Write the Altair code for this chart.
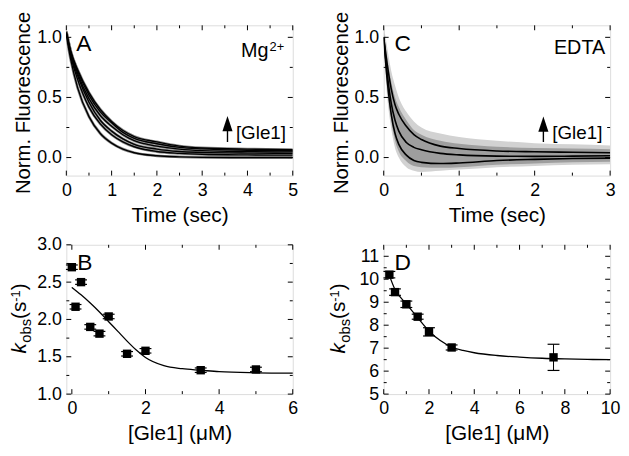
import altair as alt
import pandas as pd

FONT = "Liberation Sans"
W, H1, H2 = 229, 152, 151

# ---------------- Panel A (Mg2+) : normalized fluorescence traces ----------------
a_time = [0, 0.1, 0.25, 0.5, 0.75, 1.0, 1.25, 1.5, 2.0, 2.5, 3.0, 4.0, 5.0]
a_trace1 = [1.02, 0.81, 0.58, 0.34, 0.20, 0.12, 0.07, 0.04, 0.015, 0.006, 0.002, 0.0, 0.0]
a_trace2 = [1.03, 0.84, 0.65, 0.42, 0.28, 0.19, 0.13, 0.09, 0.05, 0.035, 0.027, 0.022, 0.02]
a_trace3 = [1.03, 0.85, 0.68, 0.46, 0.31, 0.22, 0.155, 0.11, 0.07, 0.05, 0.043, 0.037, 0.035]
a_trace4 = [1.04, 0.87, 0.70, 0.49, 0.35, 0.26, 0.19, 0.14, 0.095, 0.07, 0.058, 0.05, 0.047]
a_trace5 = [1.04, 0.88, 0.72, 0.52, 0.38, 0.29, 0.21, 0.16, 0.115, 0.085, 0.072, 0.061, 0.057]
a_trace6 = [1.05, 0.88, 0.73, 0.54, 0.40, 0.30, 0.225, 0.175, 0.13, 0.095, 0.08, 0.07, 0.066]

# ---------------- Panel C (EDTA) : fits and noise envelope ----------------
c_time = [0, 0.05, 0.1, 0.15, 0.2, 0.3, 0.4, 0.5, 0.75, 1.0, 1.5, 2.0, 2.5, 3.0]
c_fit_top = [1.0, 0.76, 0.57, 0.44, 0.36, 0.26, 0.19, 0.15, 0.095, 0.075, 0.055, 0.048, 0.044, 0.04]
c_fit_mid = [1.0, 0.68, 0.45, 0.31, 0.22, 0.125, 0.085, 0.065, 0.035, 0.022, 0.012, 0.01, 0.012, 0.015]
c_fit_low = [1.0, 0.62, 0.36, 0.20, 0.11, 0.02, -0.025, -0.04, -0.05, -0.045, -0.025, -0.015, -0.008, -0.005]
c_noise_outer_hi = [1.1, 0.90, 0.72, 0.60, 0.50, 0.38, 0.30, 0.25, 0.20, 0.17, 0.14, 0.12, 0.11, 0.10]
c_noise_outer_lo = [0.90, 0.48, 0.24, 0.08, 0.0, -0.08, -0.11, -0.12, -0.11, -0.10, -0.08, -0.07, -0.06, -0.055]
c_noise_inner_hi = [1.05, 0.82, 0.63, 0.50, 0.42, 0.31, 0.23, 0.19, 0.14, 0.115, 0.09, 0.08, 0.075, 0.07]
c_noise_inner_lo = [0.95, 0.55, 0.30, 0.14, 0.05, -0.03, -0.07, -0.08, -0.085, -0.08, -0.06, -0.05, -0.04, -0.035]

# ---------------- Panel B (Mg2+) : kobs vs [Gle1] ----------------
b_conc = [0, 0.1, 0.25, 0.5, 0.75, 1.0, 1.5, 2.0, 3.5, 5.0]
b_kobs = [2.70, 2.17, 2.50, 1.90, 1.81, 2.04, 1.54, 1.58, 1.32, 1.33]
b_err = [0.03, 0.03, 0.03, 0.03, 0.03, 0.03, 0.03, 0.03, 0.03, 0.03]
b_fit_x = [0, 0.25, 0.5, 0.75, 1.0, 1.25, 1.5, 1.75, 2.0, 2.5, 3.0, 3.5, 4.0, 5.0, 6.0]
b_fit_y = [2.43, 2.33, 2.22, 2.10, 1.97, 1.84, 1.71, 1.59, 1.49, 1.38, 1.34, 1.32, 1.30, 1.285, 1.28]

# ---------------- Panel D (EDTA) : kobs vs [Gle1] ----------------
d_conc = [0.25, 0.5, 1.0, 1.5, 2.0, 3.0, 7.5]
d_kobs = [10.20, 9.44, 8.91, 8.37, 7.71, 7.03, 6.60]
d_err = [0.14, 0.14, 0.14, 0.11, 0.18, 0.11, 0.57]
d_fit_x = [0.2, 0.5, 1.0, 1.5, 2.0, 2.5, 3.0, 3.5, 4.0, 5.0, 6.0, 7.0, 8.0, 9.0, 10.0]
d_fit_y = [10.3, 9.55, 8.93, 8.33, 7.75, 7.33, 7.05, 6.90, 6.80, 6.68, 6.61, 6.56, 6.53, 6.51, 6.50]

# ---------------- ticks ----------------
a_x_major, a_x_minor = [0, 1, 2, 3, 4, 5], [0.5, 1.5, 2.5, 3.5, 4.5]
c_x_major, c_x_minor = [0, 1, 2, 3], [0.5, 1.5, 2.5]
fl_y_major, fl_y_minor = [0.0, 0.5, 1.0], [0.25, 0.75]
b_x_major, b_x_minor = [0, 2, 4, 6], [1, 3, 5]
b_y_major, b_y_minor = [1.0, 1.5, 2.0, 2.5, 3.0], [1.25, 1.75, 2.25, 2.75]
d_x_major, d_x_minor = [0, 2, 4, 6, 8, 10], [1, 3, 5, 7, 9]
d_y_major, d_y_minor = [5, 6, 7, 8, 9, 10, 11], [5.5, 6.5, 7.5, 8.5, 9.5, 10.5]

MAJ, MIN = 5, 3


def long_df(x, series):
    rows = []
    for name, ys in series.items():
        for xv, yv in zip(x, ys):
            rows.append({"x": xv, "y": yv, "s": name})
    return pd.DataFrame(rows)


def xaxis(vals, fmt, title):
    return alt.Axis(values=vals, format=fmt, title=title, ticks=False, tickSize=0, domain=False,
                    grid=False, labelFont=FONT, labelFontSize=18, labelColor="black", labelPadding=6,
                    labelFlush=False, labelOverlap=False, titleFont=FONT, titleFontSize=21,
                    titleFontWeight="normal", titleColor="black", titlePadding=5)


def yaxis(vals, fmt, title, h=H1):
    return alt.Axis(values=vals, format=fmt, title=title, ticks=False, tickSize=0, domain=False,
                    grid=False, labelFont=FONT, labelFontSize=18, labelColor="black", labelPadding=5,
                    labelFlush=False, labelOverlap=False, titleFont=FONT, titleFontSize=20.5,
                    titleFontWeight="normal", titleColor="black", titlePadding=3,
                    titleY=h / 2 + 2)


def tick_layers(xs, ys, xax, yax, xmaj, xmin, ymaj, ymin, w, h):
    out = []
    for vals, L in ((xmaj, MAJ), (xmin, MIN)):
        df = pd.DataFrame({"v": vals})
        enc = alt.X("v:Q", scale=xs, axis=xax)
        out.append(alt.Chart(df).mark_rule(color="black", strokeWidth=1).encode(
            x=enc, y=alt.value(h), y2=alt.value(h - L)))
        out.append(alt.Chart(df).mark_rule(color="black", strokeWidth=1).encode(
            x=enc, y=alt.value(0), y2=alt.value(L)))
    for vals, L in ((ymaj, MAJ), (ymin, MIN)):
        df = pd.DataFrame({"v": vals})
        enc = alt.Y("v:Q", scale=ys, axis=yax)
        out.append(alt.Chart(df).mark_rule(color="black", strokeWidth=1).encode(
            y=enc, x=alt.value(0), x2=alt.value(L)))
        out.append(alt.Chart(df).mark_rule(color="black", strokeWidth=1).encode(
            y=enc, x=alt.value(w), x2=alt.value(w - L)))
    return out


ONE = pd.DataFrame({"k": [0]})


def txt(text, x, y, size, align="left", baseline="alphabetic", angle=0, style="normal"):
    return alt.Chart(ONE).mark_text(text=text, font=FONT, fontSize=size, align=align,
                                    baseline=baseline, angle=angle, fontStyle=style,
                                    color="black").encode(x=alt.value(x), y=alt.value(y))


ARROW_HEAD = "M0,-1L0.66,1L-0.66,1Z"
CAP = "M-1,0L1,0"


def arrow(x, y_top_head, y_bottom):
    stem = alt.Chart(ONE).mark_rule(color="black", strokeWidth=1.4).encode(
        x=alt.value(x), y=alt.value(y_top_head + 11), y2=alt.value(y_bottom))
    head = alt.Chart(ONE).mark_point(shape=ARROW_HEAD, size=240, filled=True, color="black",
                                     opacity=1, strokeWidth=0).encode(
        x=alt.value(x), y=alt.value(y_top_head + 7.5))
    return [stem, head]


def kobs_title(xb, ymid_bottom):
    # pieces of "k_obs(s^-1)" written bottom-to-top
    y = ymid_bottom
    return [
        txt("k", xb, y, 21, angle=270, style="italic"),
        txt("obs", xb + 5, y - 11, 15, angle=270),
        txt("(s", xb, y - 35, 21, angle=270),
        txt("-1", xb - 6, y - 52.5, 13, angle=270),
        txt(")", xb, y - 64, 21, angle=270),
    ]


def error_layers(df, xs, ys, xax, yax):
    bar = alt.Chart(df).mark_rule(color="black", strokeWidth=1).encode(
        x=alt.X("c:Q", scale=xs, axis=xax), y=alt.Y("lo:Q", scale=ys, axis=yax), y2="hi:Q")
    cap_lo = alt.Chart(df).mark_point(shape=CAP, size=144, color="black", strokeWidth=1.2,
                                      opacity=1).encode(
        x=alt.X("c:Q", scale=xs, axis=xax), y=alt.Y("lo:Q", scale=ys, axis=yax))
    cap_hi = alt.Chart(df).mark_point(shape=CAP, size=144, color="black", strokeWidth=1.2,
                                      opacity=1).encode(
        x=alt.X("c:Q", scale=xs, axis=xax), y=alt.Y("hi:Q", scale=ys, axis=yax))
    pts = alt.Chart(df).mark_square(size=72, color="black", opacity=1).encode(
        x=alt.X("c:Q", scale=xs, axis=xax), y=alt.Y("k:Q", scale=ys, axis=yax))
    return [bar, cap_lo, cap_hi, pts]


# ---------------- build panel A ----------------
xs_a = alt.Scale(domain=[0, 5], nice=False, zero=False)
ys_fl = alt.Scale(domain=[-0.15, 1.1], nice=False, zero=False)
xax_a = xaxis(a_x_major, "d", "Time (sec)")
yax_fl = yaxis(fl_y_major, ".1f", "Norm. Fluorescence")
df_a = long_df(a_time, {"1": a_trace1, "2": a_trace2, "3": a_trace3,
                        "4": a_trace4, "5": a_trace5, "6": a_trace6})
a_shadow = alt.Chart(df_a).mark_line(color="#8c8c8c", strokeWidth=2.8, interpolate="monotone",
                                     clip=True).encode(
    x=alt.X("x:Q", scale=xs_a, axis=xax_a),
    y=alt.Y("y:Q", scale=ys_fl, axis=yax_fl),
    detail="s:N")
a_main = alt.Chart(df_a).mark_line(color="black", strokeWidth=1.4, interpolate="monotone",
                                   clip=True).encode(
    x=alt.X("x:Q", scale=xs_a, axis=xax_a),
    y=alt.Y("y:Q", scale=ys_fl, axis=yax_fl),
    detail="s:N")
A = alt.layer(
    a_shadow, a_main,
    *tick_layers(xs_a, ys_fl, xax_a, yax_fl, a_x_major, a_x_minor, fl_y_major, fl_y_minor, W, H1),
    txt("A", 10, 25.5, 23),
    txt("Mg", 204.5, 32.5, 20, align="right"),
    txt("2+", 205.5, 25.5, 13),
    *arrow(163, 92, 118),
    txt("[Gle1]", 171.5, 108.5, 19, baseline="middle"),
).properties(width=W, height=H1)

# ---------------- build panel C ----------------
xs_c = alt.Scale(domain=[0, 3], nice=False, zero=False)
xax_c = xaxis(c_x_major, "d", "Time (sec)")
df_c_band = pd.DataFrame({"x": c_time, "ohi": c_noise_outer_hi, "olo": c_noise_outer_lo,
                          "ihi": c_noise_inner_hi, "ilo": c_noise_inner_lo})
df_c = long_df(c_time, {"top": c_fit_top, "mid": c_fit_mid, "low": c_fit_low})
c_outer = alt.Chart(df_c_band).mark_area(color="#d2d2d2", interpolate="monotone", clip=True).encode(
    x=alt.X("x:Q", scale=xs_c, axis=xax_c),
    y=alt.Y("olo:Q", scale=ys_fl, axis=yax_fl), y2="ohi:Q")
c_inner = alt.Chart(df_c_band).mark_area(color="#9e9e9e", interpolate="monotone", clip=True).encode(
    x=alt.X("x:Q", scale=xs_c, axis=xax_c),
    y=alt.Y("ilo:Q", scale=ys_fl, axis=yax_fl), y2="ihi:Q")
c_lines = alt.Chart(df_c).mark_line(color="black", strokeWidth=1.6, interpolate="monotone",
                                    clip=True).encode(
    x=alt.X("x:Q", scale=xs_c, axis=xax_c),
    y=alt.Y("y:Q", scale=ys_fl, axis=yax_fl), detail="s:N")
C = alt.layer(
    c_outer, c_inner, c_lines,
    *tick_layers(xs_c, ys_fl, xax_c, yax_fl, c_x_major, c_x_minor, fl_y_major, fl_y_minor, W, H1),
    txt("C", 11, 25.5, 23),
    txt("EDTA", 224, 29.5, 20, align="right"),
    *arrow(161.5, 92.5, 118),
    txt("[Gle1]", 170.5, 108.5, 19, baseline="middle"),
).properties(width=W, height=H1)

# ---------------- build panel B ----------------
xs_b = alt.Scale(domain=[-0.15, 6], nice=False, zero=False)
ys_b = alt.Scale(domain=[1.0, 3.0], nice=False, zero=False)
xax_b = xaxis(b_x_major, "d", "[Gle1] (\u03bcM)")
yax_b = yaxis(b_y_major, ".1f", None, H2)
df_b = pd.DataFrame({"c": b_conc, "k": b_kobs, "e": b_err})
df_b["lo"] = df_b["k"] - df_b["e"]
df_b["hi"] = df_b["k"] + df_b["e"]
df_bfit = pd.DataFrame({"x": b_fit_x, "y": b_fit_y})
b_fit = alt.Chart(df_bfit).mark_line(color="black", strokeWidth=1.3, interpolate="monotone").encode(
    x=alt.X("x:Q", scale=xs_b, axis=xax_b),
    y=alt.Y("y:Q", scale=ys_b, axis=yax_b))
B = alt.layer(
    b_fit, *error_layers(df_b, xs_b, ys_b, xax_b, yax_b),
    *tick_layers(xs_b, ys_b, xax_b, yax_b, b_x_major, b_x_minor, b_y_major, b_y_minor, W, H2),
    txt("B", 11, 25.5, 23),
    *kobs_title(-41, 110),
).properties(width=W, height=H2)

# ---------------- build panel D ----------------
xs_d = alt.Scale(domain=[0, 10], nice=False, zero=False)
ys_d = alt.Scale(domain=[5, 11.5], nice=False, zero=False)
xax_d = xaxis(d_x_major, "d", "[Gle1] (\u03bcM)")
yax_d = yaxis(d_y_major, "d", None, H2)
df_d = pd.DataFrame({"c": d_conc, "k": d_kobs, "e": d_err})
df_d["lo"] = df_d["k"] - df_d["e"]
df_d["hi"] = df_d["k"] + df_d["e"]
df_dfit = pd.DataFrame({"x": d_fit_x, "y": d_fit_y})
d_fit = alt.Chart(df_dfit).mark_line(color="black", strokeWidth=1.3, interpolate="monotone").encode(
    x=alt.X("x:Q", scale=xs_d, axis=xax_d),
    y=alt.Y("y:Q", scale=ys_d, axis=yax_d))
D = alt.layer(
    d_fit, *error_layers(df_d, xs_d, ys_d, xax_d, yax_d),
    *tick_layers(xs_d, ys_d, xax_d, yax_d, d_x_major, d_x_minor, d_y_major, d_y_minor, W, H2),
    txt("D", 11, 25, 23),
    *kobs_title(-39, 110),
).properties(width=W, height=H2)

chart = alt.concat(A, C, B, D, columns=2, spacing={"row": 70, "column": 92}, bounds="flush").properties(
    padding={"left": 0, "top": 0, "right": 0, "bottom": 0}
).configure_view(stroke="black", strokeWidth=1).configure(font=FONT)

chart.save("out.html", embed_options={"renderer": "svg", "actions": False})
